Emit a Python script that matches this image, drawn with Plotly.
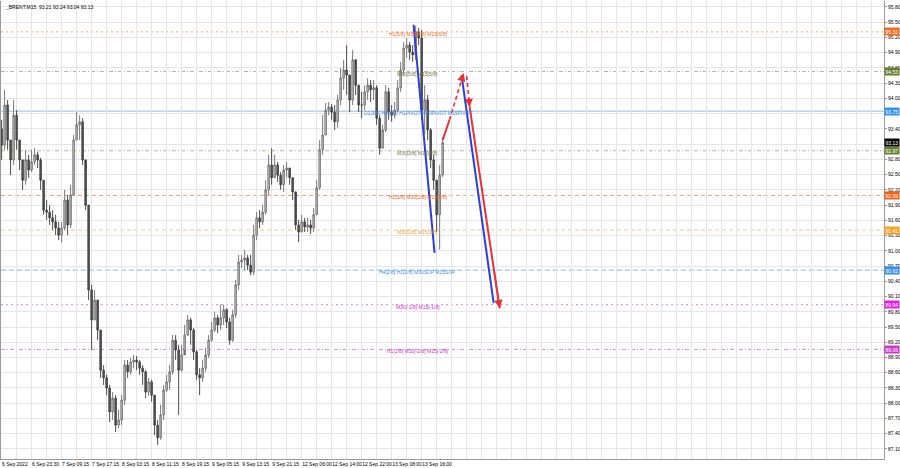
import plotly.graph_objects as go

# ---------------- data ----------------
x_labels = ["6 Sep 2022", "6 Sep 23:30", "7 Sep 09:15", "7 Sep 17:15", "8 Sep 03:15",
            "8 Sep 11:15", "8 Sep 19:15", "9 Sep 05:15", "9 Sep 13:15", "9 Sep 21:15",
            "12 Sep 06:00", "12 Sep 14:00", "12 Sep 22:00", "13 Sep 08:00", "13 Sep 16:00"]

close = [93.08, 93.87, 93.18, 92.79, 93.67, 93.18, 92.79, 92.39, 92.79, 92.59,
         92.75, 92.89, 92.79, 92.39, 91.80, 91.76, 91.65, 91.57, 91.45, 91.31,
         91.45, 92.00, 91.51, 92.10, 93.18, 93.48, 93.54, 92.79, 91.90, 90.23,
         89.64, 90.03, 89.44, 88.65, 88.50, 88.30, 87.83, 88.10, 87.57, 87.67,
         88.06, 88.75, 88.62, 88.81, 88.85, 88.81, 88.69, 88.62, 88.22, 88.42,
         88.16, 87.57, 87.32, 87.77, 88.26, 88.42, 88.62, 89.24, 89.05, 88.65,
         88.95, 89.34, 89.64, 89.44, 89.01, 88.56, 88.50, 88.69, 88.95, 89.24,
         89.44, 89.68, 89.54, 89.68, 89.84, 89.60, 89.24, 89.74, 90.33, 90.78,
         90.82, 90.86, 90.72, 90.58, 91.31, 91.65, 91.57, 91.76, 92.20, 92.69,
         92.44, 92.69, 92.49, 92.30, 92.59, 92.63, 92.44, 92.16, 91.51, 91.37,
         91.57, 91.47, 91.51, 91.45, 91.71, 92.24, 92.99, 93.28, 93.77, 93.83,
         93.73, 93.54, 93.97, 94.40, 94.56, 94.46, 93.97, 94.76, 94.26, 93.87,
         93.87, 94.13, 94.26, 94.17, 94.21, 93.61, 93.02, 93.38, 94.13, 93.73,
         93.67, 93.77, 94.21, 94.56, 94.99, 95.05, 94.91, 94.86, 95.31, 95.19,
         93.77, 93.97, 93.38, 92.79, 92.39, 91.71, 92.49, 93.13]

high = [93.58, 94.17, 93.97, 93.18, 93.97, 93.77, 93.18, 92.79, 92.99, 92.89,
        92.99, 93.02, 92.95, 92.83, 92.39, 92.00, 91.90, 91.80, 91.71, 91.57,
        91.57, 92.20, 92.10, 92.30, 93.28, 93.73, 93.67, 93.61, 92.59, 91.90,
        90.33, 90.23, 90.03, 89.44, 88.75, 88.56, 88.36, 88.22, 88.16, 87.87,
        88.16, 88.85, 88.85, 88.89, 88.95, 88.93, 88.85, 88.75, 88.65, 88.50,
        88.46, 88.16, 87.67, 87.97, 88.36, 88.56, 88.75, 89.34, 89.34, 89.15,
        89.15, 89.54, 89.74, 89.68, 89.48, 89.05, 88.69, 88.85, 89.09, 89.34,
        89.60, 89.80, 89.74, 89.94, 89.94, 89.87, 89.68, 89.84, 90.43, 90.92,
        90.92, 91.02, 90.92, 90.92, 91.51, 91.76, 91.80, 91.90, 92.39, 92.89,
        93.02, 92.89, 92.75, 92.55, 92.69, 92.75, 92.63, 92.44, 92.10, 91.61,
        91.71, 91.65, 91.65, 91.61, 91.84, 92.39, 93.18, 93.67, 93.91, 93.93,
        93.89, 93.87, 94.07, 94.60, 94.76, 95.05, 94.26, 94.95, 94.66, 94.26,
        94.13, 94.26, 94.40, 94.36, 94.36, 94.26, 93.67, 93.48, 94.26, 94.21,
        93.87, 93.93, 94.36, 94.72, 95.11, 95.19, 95.11, 95.05, 95.43, 95.39,
        95.35, 94.26, 94.07, 93.42, 92.89, 92.30, 92.69, 93.24]

low = [92.79, 92.99, 92.99, 92.49, 92.69, 92.99, 92.59, 92.20, 92.30, 92.44,
       92.55, 92.69, 92.63, 92.20, 91.71, 91.61, 91.51, 91.41, 91.31, 91.21,
       91.17, 91.41, 91.31, 91.45, 92.10, 93.18, 93.18, 92.69, 91.80, 90.03,
       89.05, 89.64, 89.24, 88.50, 88.36, 88.16, 87.63, 87.67, 87.43, 87.51,
       87.57, 87.97, 88.50, 88.56, 88.69, 88.65, 88.56, 88.36, 88.10, 88.14,
       88.03, 87.37, 87.18, 87.28, 87.67, 88.22, 88.26, 88.56, 88.85, 87.77,
       88.62, 89.05, 89.34, 89.15, 88.85, 88.46, 88.16, 88.42, 88.62, 88.89,
       89.21, 89.40, 89.38, 89.44, 89.54, 89.48, 89.15, 89.21, 89.68, 90.23,
       90.66, 90.62, 90.62, 90.52, 90.52, 91.21, 91.45, 91.51, 91.71, 92.10,
       92.30, 92.44, 92.36, 92.20, 92.16, 92.44, 92.30, 92.00, 91.41, 91.17,
       91.37, 91.37, 91.37, 91.33, 91.37, 91.71, 92.20, 92.89, 93.28, 93.67,
       93.58, 93.38, 93.42, 93.87, 94.17, 94.07, 93.73, 93.87, 94.07, 93.73,
       93.61, 93.77, 93.97, 93.93, 93.97, 93.48, 92.89, 93.02, 93.34, 93.58,
       93.54, 93.61, 93.73, 94.13, 94.46, 94.80, 94.76, 94.72, 94.76, 95.05,
       93.58, 93.28, 93.18, 92.63, 92.20, 91.37, 91.02, 92.45]

first_open = 93.40
open_ = [first_open] + close[:-1]
bar = list(range(len(close)))

y_ticks = [95.80, 95.50, 95.20, 94.90, 94.60, 94.30, 94.00, 93.70, 93.40, 93.10,
           92.80, 92.50, 92.20, 91.90, 91.60, 91.30, 91.00, 90.70, 90.40, 90.10,
           89.80, 89.50, 89.20, 88.90, 88.60, 88.30, 88.00, 87.70, 87.40, 87.10]
# labels hidden behind the price boxes in the reference are left blank
y_tick_labels = ["95.80", "95.50", "95.20", "94.90", "94.60", "94.30", "94.00", "", "93.40", "",
                 "92.80", "92.50", "92.20", "91.90", "91.60", "91.30", "91.00", "90.70", "90.40", "90.10",
                 "89.80", "89.50", "89.20", "88.90", "88.60", "88.30", "88.00", "87.70", "87.40", "87.10"]

level_price = [95.31, 94.53, 93.75, 92.97, 92.09, 91.41, 90.62, 89.94, 89.06]
level_text = ["H1[5/8] M30[6/8] M15[6/8]",
              "M30[5/8] M15[5/8]",
              "D1[3/8] H4[3/8] H1PIVOT M30PIVOT M15PIVOT",
              "M30[3/8] M15[3/8]",
              "H1[3/8] M30[2/8] M15[2/8]",
              "M30[1/8] M15[1/8]",
              "H4[2/8] H1[2/8] M30SUP M15SUP",
              "M30[-1/8] M15[-1/8]",
              "H1[1/8] M30[-2/8] M15[-2/8]"]
level_box = ["#f26b24", "#667f33", "#3393ee", "#667f33", "#f0621c",
             "#f5a32a", "#3a90e8", "#e21fe2", "#c83ac8"]
level_line = ["#f3a36f", "#b7b98f", "#b3d5ee", "#b7b98f", "#f2a27a",
              "#f6c98a", "#98c6ea", "#e27ee2", "#d38bd3"]
level_textcolor = ["#ef6a28", "#75753f", "#3d8fdc", "#75753f", "#e8652a",
                   "#f0a030", "#3d8fdc", "#dd22dd", "#c535c5"]
level_dash = ["2px,3px", "4px,2px,1px,2px", "solid", "4px,2px,1px,2px", "4px,3px",
              "4px,3px", "5px,3px", "2px,3px", "4px,2px,1px,2px"]
level_width = [1, 1, 1.5, 1, 1, 1, 1.2, 1, 1]
level_label_bar = 138.7

current_price = 93.13
title_text = "_BRENT,M15  93.21 93.24 93.04 93.13"

# projection / trend lines (bar, price)
blue1_bar, blue1_price = [137.3, 144.3], [95.45, 90.96]
blue2_bar, blue2_price = [153.3, 164.0], [94.46, 89.97]
red_solid1_bar, red_solid1_price = [147.0, 149.3], [93.18, 93.58]
red_up_bar, red_up_price = [149.3, 154.0], [93.58, 94.50]
red_down_bar, red_down_price = [155.0, 156.0], [94.44, 93.83]
red_solid2_bar, red_solid2_price = [156.0, 166.0], [93.83, 89.87]

BLUE = "#2b3fd8"
RED = "#e83238"
FONT = "Liberation Sans"
FS = 5

fig = go.Figure()

shapes = []
for p, c, d, w in zip(level_price, level_line, level_dash, level_width):
    shapes.append(dict(type="line", xref="paper", x0=0, x1=1, yref="y", y0=p, y1=p,
                       line=dict(color=c, width=w, dash=d), layer="below"))

fig.add_trace(go.Candlestick(
    x=bar, open=open_, high=high, low=low, close=close,
    increasing=dict(line=dict(color="#6a6a6a", width=0.9), fillcolor="#d0d0d0"),
    decreasing=dict(line=dict(color="#3a3a3a", width=0.9), fillcolor="#5a5a5a"),
    whiskerwidth=0, hoverinfo="skip", showlegend=False))

def seg(xs, ys, color, dash="solid", width=2):
    fig.add_trace(go.Scatter(x=xs, y=ys, mode="lines", hoverinfo="skip", showlegend=False,
                             line=dict(color=color, width=width, dash=dash)))

seg(blue1_bar, blue1_price, BLUE)
seg(blue2_bar, blue2_price, BLUE)
seg(red_solid1_bar, red_solid1_price, RED)
seg(red_up_bar, red_up_price, RED, dash="4px,3px", width=1.6)
seg(red_down_bar, red_down_price, RED, dash="4px,3px", width=1.6)
seg(red_solid2_bar, red_solid2_price, RED)

annotations = []

def head(xs, ys, color, width):
    fx = xs[0] + 0.8 * (xs[1] - xs[0])
    fy = ys[0] + 0.8 * (ys[1] - ys[0])
    annotations.append(dict(x=xs[1], y=ys[1], ax=fx, ay=fy, xref="x", yref="y",
                            axref="x", ayref="y", showarrow=True, arrowhead=2,
                            arrowsize=1.1, arrowwidth=width, arrowcolor=color, text=""))

head(red_up_bar, red_up_price, RED, 1.5)
head(red_down_bar, red_down_price, RED, 1.5)
head(red_solid2_bar, red_solid2_price, RED, 1.5)

for p, t, c in zip(level_price, level_text, level_textcolor):
    annotations.append(dict(x=level_label_bar, y=p, xref="x", yref="y", text=t,
                            showarrow=False, xanchor="center", yanchor="middle", yshift=-2,
                            font=dict(family=FONT, size=FS, color=c)))

for p, c in zip(level_price, level_box):
    annotations.append(dict(x=1, y=p, xref="paper", yref="y", text=f"{p:.2f}",
                            showarrow=False, xanchor="left", yanchor="middle", xshift=0,
                            bgcolor=c, borderpad=0.5,
                            font=dict(family=FONT, size=FS, color="white")))
annotations.append(dict(x=1, y=current_price, xref="paper", yref="y", text=f"{current_price:.2f}",
                        showarrow=False, xanchor="left", yanchor="middle", xshift=0,
                        bgcolor="#000000", borderpad=0.5,
                        font=dict(family=FONT, size=FS, color="white")))

annotations.append(dict(x=0, y=1, xref="paper", yref="paper", text=title_text,
                        showarrow=False, xanchor="left", yanchor="top", xshift=2, yshift=-1,
                        font=dict(family=FONT, size=FS, color="#000000")))

x_tickvals = list(range(0, 295, 5))
x_ticktext = []
for v in x_tickvals:
    k = v // 10
    x_ticktext.append(x_labels[k] if (v % 10 == 0 and k < len(x_labels)) else "")

fig.update_layout(
    template="none",
    width=900, height=468,
    margin=dict(l=1, r=16, t=1, b=9, autoexpand=False),
    paper_bgcolor="white", plot_bgcolor="white",
    showlegend=False,
    shapes=shapes, annotations=annotations,
    font=dict(family=FONT, size=FS, color="#000"),
    xaxis=dict(range=[-0.2, 294.1], tickvals=x_tickvals, ticktext=x_ticktext,
               automargin=False, tickangle=0,
               showgrid=True, gridcolor="#e6e6e6", gridwidth=1, zeroline=False,
               showline=True, linecolor="#9a9a9a", linewidth=1, ticks="",
               ticklabelposition="outside right", tickfont=dict(family=FONT, size=FS, color="#000"),
               rangeslider=dict(visible=False), fixedrange=True),
    yaxis=dict(range=[86.902, 95.918], side="right", tickvals=y_ticks,
               ticktext=y_tick_labels, automargin=False,
               showgrid=True, gridcolor="#e6e6e6", gridwidth=1, zeroline=False,
               showline=True, mirror=True, linecolor="#9a9a9a", linewidth=1,
               ticks="outside", ticklen=2, tickcolor="#9a9a9a",
               tickfont=dict(family=FONT, size=FS, color="#000"), fixedrange=True),
)

fig.write_html("out.html", config={"displayModeBar": False},
               post_script="document.body.style.margin='0px';document.body.style.overflow='hidden';")
